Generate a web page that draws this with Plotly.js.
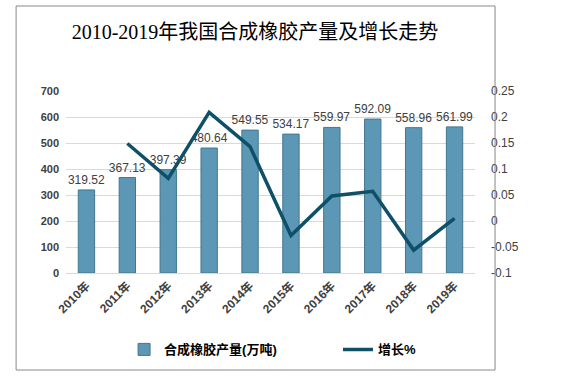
<!DOCTYPE html>
<html><head><meta charset="utf-8">
<script src="https://cdn.plot.ly/plotly-3.0.1.min.js"></script>
<style>html,body{margin:0;padding:0;background:#fff}#chart{width:563px;height:380px}</style>
</head><body><div id="chart"></div>
<script>
const years = ["2010年","2011年","2012年","2013年","2014年","2015年","2016年","2017年","2018年","2019年"];
const output = [319.52,367.13,397.39,480.64,549.55,534.17,559.97,592.09,558.96,561.99];
const growthYears = ["2011年","2012年","2013年","2014年","2015年","2016年","2017年","2018年","2019年"];
const growth = [0.149,0.082,0.209,0.143,-0.028,0.048,0.057,-0.056,0.005];
const leftTicks = [0,100,200,300,400,500,600,700];
const rightTicks = [-0.1,-0.05,0,0.05,0.1,0.15,0.2,0.25];
const rightTickText = ["-0.1","-0.05","0","0.05","0.1","0.15","0.2","0.25"];

const font = '"Liberation Sans","Noto Sans CJK SC",sans-serif';
const data = [
  {type:'bar', x:years, y:output, name:'合成橡胶产量(万吨)', width:0.4,
   marker:{color:'#5c98b6', line:{color:'#42768f', width:1}},
   text:output.map(v=>v.toFixed(2)), textposition:'outside', cliponaxis:false, constraintext:'none',
   textfont:{family:font, size:12, color:'#404040'}, legend:'legend'},
  {type:'scatter', mode:'lines', x:growthYears, y:growth, yaxis:'y2', name:'增长%',
   line:{color:'#0e5068', width:3.5}, legend:'legend2'}
];
const layout = {
  width:563, height:380, margin:{l:66,r:88,t:91,b:107},
  paper_bgcolor:'#fff', plot_bgcolor:'#fff',
  title:{text:'2010-2019年我国合成橡胶产量及增长走势', x:0.453, xanchor:'center', y:0.915, yanchor:'middle',
    font:{family:'"Liberation Serif","Noto Sans CJK SC",serif', size:20, color:'#000'}},
  bargap:0.6,
  xaxis:{type:'category', tickangle:-45, showgrid:false, showline:true, linecolor:'#d9d9d9',
    ticks:'', tickfont:{family:font, size:12, color:'#404040', weight:'bold'}},
  yaxis:{range:[0,700], tickvals:leftTicks, showgrid:true, gridcolor:'#d9d9d9', zeroline:false,
    ticks:'', ticklabelstandoff:6, tickfont:{family:font, size:11, color:'#404040', weight:'bold'}},
  yaxis2:{overlaying:'y', side:'right', range:[-0.1,0.25], tickvals:rightTicks, ticktext:rightTickText,
    showgrid:false, zeroline:false, ticks:'', ticklabelstandoff:15,
    tickfont:{family:font, size:12, color:'#404040'}},
  showlegend:true,
  legend:{x:0.142, y:-0.42, xanchor:'left', yanchor:'middle', orientation:'h',
    font:{family:font, size:13, color:'#000', weight:'bold'}, bgcolor:'rgba(0,0,0,0)'},
  legend2:{x:0.665, y:-0.42, xanchor:'left', yanchor:'middle', orientation:'h',
    font:{family:font, size:13, color:'#000', weight:'bold'}, bgcolor:'rgba(0,0,0,0)'},
  shapes:[{type:'rect', xref:'paper', yref:'paper', x0:-0.122, x1:1.049, y0:-0.533, y1:1.467,
    line:{color:'#888', width:1}, fillcolor:'rgba(0,0,0,0)'}]
};
Plotly.newPlot('chart', data, layout, {displayModeBar:false, staticPlot:true});
</script></body></html>
